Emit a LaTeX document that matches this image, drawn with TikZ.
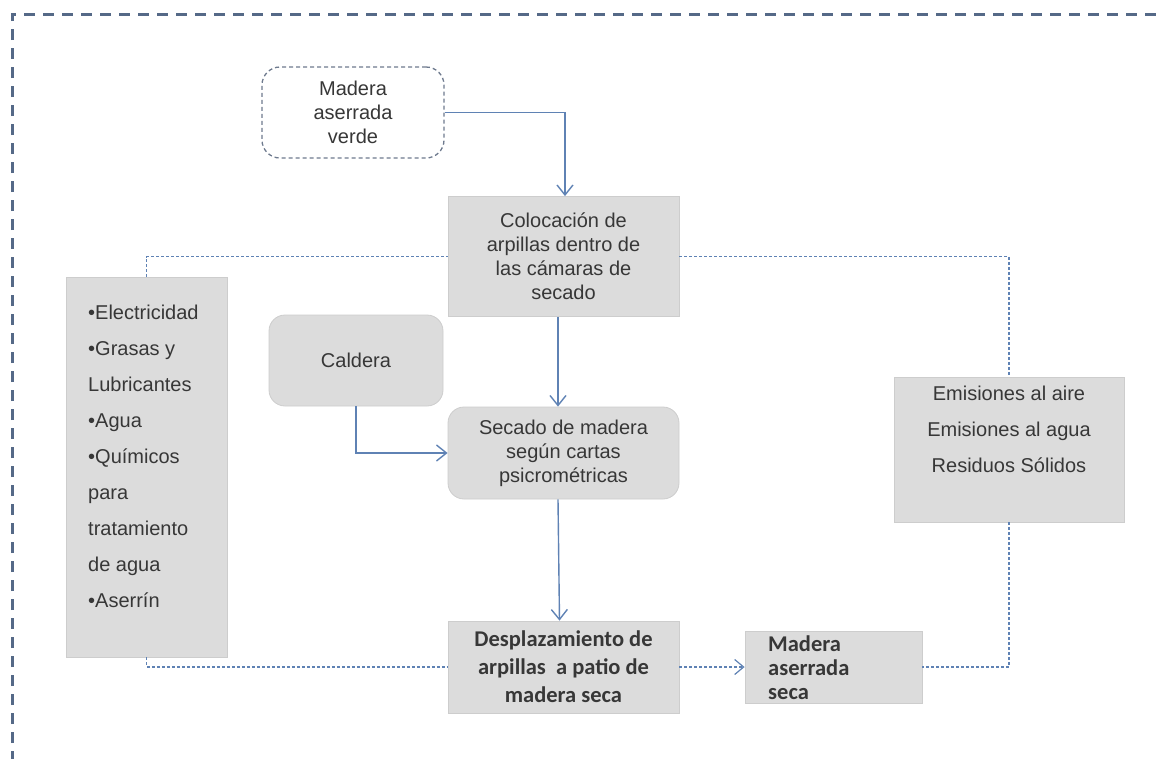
\documentclass[tikz,border=0pt]{standalone}
\usepackage{fontspec}
\setmainfont{Liberation Sans}
\newfontfamily\calib{Carlito}
\usetikzlibrary{arrows.meta}

\definecolor{boxfill}{RGB}{220,220,220}
\definecolor{boxline}{RGB}{205,205,205}
\definecolor{txt}{RGB}{55,55,55}
\definecolor{flow}{RGB}{95,130,180}
\definecolor{framec}{RGB}{85,105,135}
\definecolor{dashbox}{RGB}{110,122,142}

\begin{document}
\begin{tikzpicture}[x=1pt,y=-1pt,
  pbox/.style={draw=boxline, fill=boxfill, line width=0.8pt, inner sep=0pt,
    text=txt, align=center, font=\fontsize{20}{24}\selectfont},
  rbox/.style={pbox, rounded corners=16pt},
  boldtext/.style={font=\calib\bfseries\fontsize{22.5}{28}\selectfont},
  flowarrow/.style={draw=flow, line width=1.4pt,
    -{Straight Barb[length=10pt,width=16pt,line width=1.4pt]}},
  link/.style={draw=flow, line width=1.2pt, dash pattern=on 3pt off 2pt},
  linkarrow/.style={link, -{Straight Barb[length=9pt,width=15pt,line width=1.2pt]}},
  listtext/.style={text=txt, inner sep=0pt, font=\fontsize{20}{36}\selectfont}
]
\useasboundingbox (0,0) rectangle (1157,758);
\clip (0,0) rectangle (1157,758);

% outer dashed frame
\draw[framec, line width=3pt, dash pattern=on 11pt off 8pt] (12,800) -- (12,14) -- (1200,14);

% process boxes
\node[rbox, draw=dashbox, fill=white, line width=1.3pt, dash pattern=on 4pt off 3pt,
  rounded corners=18pt, minimum width=182pt, minimum height=91pt] (verde) at (353,112.5)
  {Madera\\aserrada\\verde};
\node[pbox, minimum width=231pt, minimum height=120pt] (coloc) at (563.5,256.5)
  {Colocación de\\arpillas dentro de\\las cámaras de\\secado};
\node[rbox, minimum width=174pt, minimum height=91pt] (caldera) at (356,360.5) {Caldera};
\node[rbox, minimum width=231pt, minimum height=92pt] (secado) at (563.5,453)
  {Secado de madera\\según cartas\\psicrométricas};
\node[pbox, boldtext, minimum width=231pt, minimum height=92pt] (despl) at (563.5,667)
  {Desplazamiento de\\arpillas\ \ a patio de\\madera seca};
\node[pbox, minimum width=177pt, minimum height=72pt] (seca) at (833.5,667) {};
\node[text=txt, inner sep=0pt, align=left, anchor=west,
  font=\calib\bfseries\fontsize{22.5}{24}\selectfont] (secatext) at (768,668)
  {Madera\\aserrada\\seca};

% inputs and outputs
\node[pbox, minimum width=161pt, minimum height=380pt] (inputs) at (146.5,467) {};
\node[listtext, align=left, anchor=north west] (inputstext) at (88,305)
  {•Electricidad\\•Grasas y\\Lubricantes\\•Agua\\•Químicos\\para\\tratamiento\\de agua\\•Aserrín};
\node[pbox, minimum width=230pt, minimum height=145pt] (outputs) at (1009,449.5) {};
\node[listtext, align=center, anchor=north] (outputstext) at (1009,386)
  {Emisiones al aire\\Emisiones al agua\\Residuos Sólidos};

% main flow
\draw[flowarrow] (verde.east) -| ([xshift=1.5pt]coloc.north);
\draw[flowarrow] ([xshift=-5.5pt]coloc.south) -- ([xshift=-5.5pt]secado.north);
\draw[flowarrow] ([xshift=-5.5pt]secado.south) -- ([xshift=-4pt]despl.north);
\draw[flowarrow] (caldera.south) |- (secado.west);

% dotted links to inputs and outputs
\draw[link] (inputs.north) |- (coloc.west);
\draw[link] (inputs.south) |- (despl.west);
\draw[link] (coloc.east) -| (outputs.north);
\draw[link] (outputs.south) |- (seca.east);
\draw[linkarrow] (despl.east) -- (seca.west);
\end{tikzpicture}
\end{document}
